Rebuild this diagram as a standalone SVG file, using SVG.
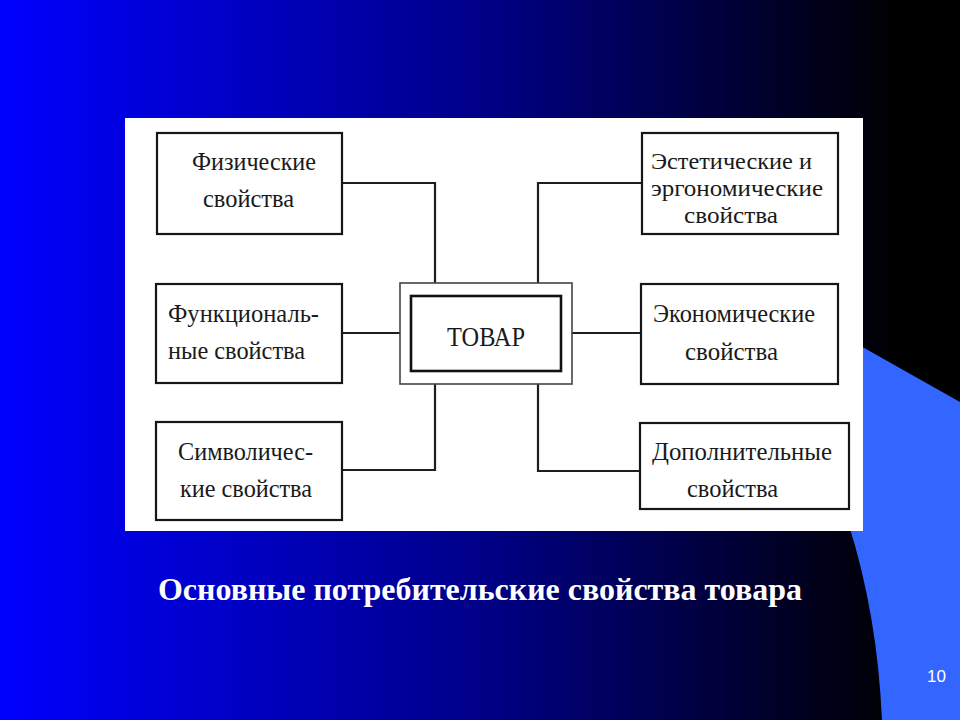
<svg xmlns="http://www.w3.org/2000/svg" width="960" height="720" viewBox="0 0 960 720">
<defs>
<linearGradient id="bg" x1="0" y1="0" x2="960" y2="0" gradientUnits="userSpaceOnUse">
<stop offset="0" stop-color="#0000FF"/>
<stop offset="0.5" stop-color="#000088"/>
<stop offset="0.94" stop-color="#000000"/>
<stop offset="1" stop-color="#000000"/>
</linearGradient>
<style>
.box{fill:#fff;stroke:#161616;stroke-width:2.2}
.outer{fill:#fff;stroke:#444;stroke-width:1.6}
.inner{fill:#fff;stroke:#111;stroke-width:2.6}
.t{font-family:"Liberation Serif","Times New Roman",serif;font-size:26px;fill:#1a1a1a}
.s{font-size:24px}
.con{fill:none;stroke:#1e1e1e;stroke-width:2.2}
</style>
</defs>
<rect x="0" y="0" width="960" height="720" fill="url(#bg)"/>
<path d="M850,340 L960,402 L960,720 L882,720 C879,650 868,585 848,522 Z" fill="#3366FF"/>
<rect x="125" y="118" width="738" height="413" fill="#fff"/>
<g id="connectors">
<polyline class="con" points="342,183 435,183 435,283"/>
<polyline class="con" points="342,333 400,333"/>
<polyline class="con" points="342,470 435,470 435,384"/>
<polyline class="con" points="642,183 538,183 538,283"/>
<polyline class="con" points="572,333 641,333"/>
<polyline class="con" points="640,471 538,471 538,384"/>
</g>
<g id="tovar">
<rect class="outer" x="400" y="283" width="172" height="101"/>
<rect class="inner" x="411" y="296" width="150" height="75"/>
<text class="t" x="447" y="346" style="font-size:27px" textLength="78" lengthAdjust="spacingAndGlyphs">ТОВАР</text>
</g>
<g id="physical">
<rect class="box" x="157" y="133" width="185" height="101"/>
<text class="t" x="192" y="170" textLength="124" lengthAdjust="spacingAndGlyphs">Физические</text>
<text class="t" x="203" y="207" textLength="91" lengthAdjust="spacingAndGlyphs">свойства</text>
</g>
<g id="functional">
<rect class="box" x="156" y="284" width="186" height="99"/>
<text class="t" x="168" y="322" textLength="151" lengthAdjust="spacingAndGlyphs">Функциональ-</text>
<text class="t" x="168" y="359" textLength="137" lengthAdjust="spacingAndGlyphs">ные свойства</text>
</g>
<g id="symbolic">
<rect class="box" x="156" y="422" width="186" height="98"/>
<text class="t" x="178" y="460" textLength="135" lengthAdjust="spacingAndGlyphs">Символичес-</text>
<text class="t" x="180" y="497" textLength="132" lengthAdjust="spacingAndGlyphs">кие свойства</text>
</g>
<g id="aesthetic">
<rect class="box" x="642" y="133" width="196" height="101"/>
<text class="t s" x="651" y="169" textLength="161" lengthAdjust="spacingAndGlyphs">Эстетические и</text>
<text class="t s" x="651" y="196" textLength="172" lengthAdjust="spacingAndGlyphs">эргономические</text>
<text class="t s" x="684" y="223" textLength="94" lengthAdjust="spacingAndGlyphs">свойства</text>
</g>
<g id="economic">
<rect class="box" x="641" y="284" width="197" height="100"/>
<text class="t" x="653" y="322" textLength="162" lengthAdjust="spacingAndGlyphs">Экономические</text>
<text class="t" x="685" y="360" textLength="93" lengthAdjust="spacingAndGlyphs">свойства</text>
</g>
<g id="additional">
<rect class="box" x="640" y="423" width="209" height="86"/>
<text class="t" x="652" y="460" textLength="180" lengthAdjust="spacingAndGlyphs">Дополнительные</text>
<text class="t" x="687" y="497" textLength="91" lengthAdjust="spacingAndGlyphs">свойства</text>
</g>
<text x="158" y="600" font-family="'Liberation Serif','Times New Roman',serif" font-size="32" font-weight="bold" fill="#fff" textLength="644" lengthAdjust="spacingAndGlyphs">Основные потребительские свойства товара</text>
<text x="936.5" y="682" font-family="'Liberation Sans',Arial,sans-serif" font-size="17" fill="#fff" text-anchor="middle">10</text>
</svg>
